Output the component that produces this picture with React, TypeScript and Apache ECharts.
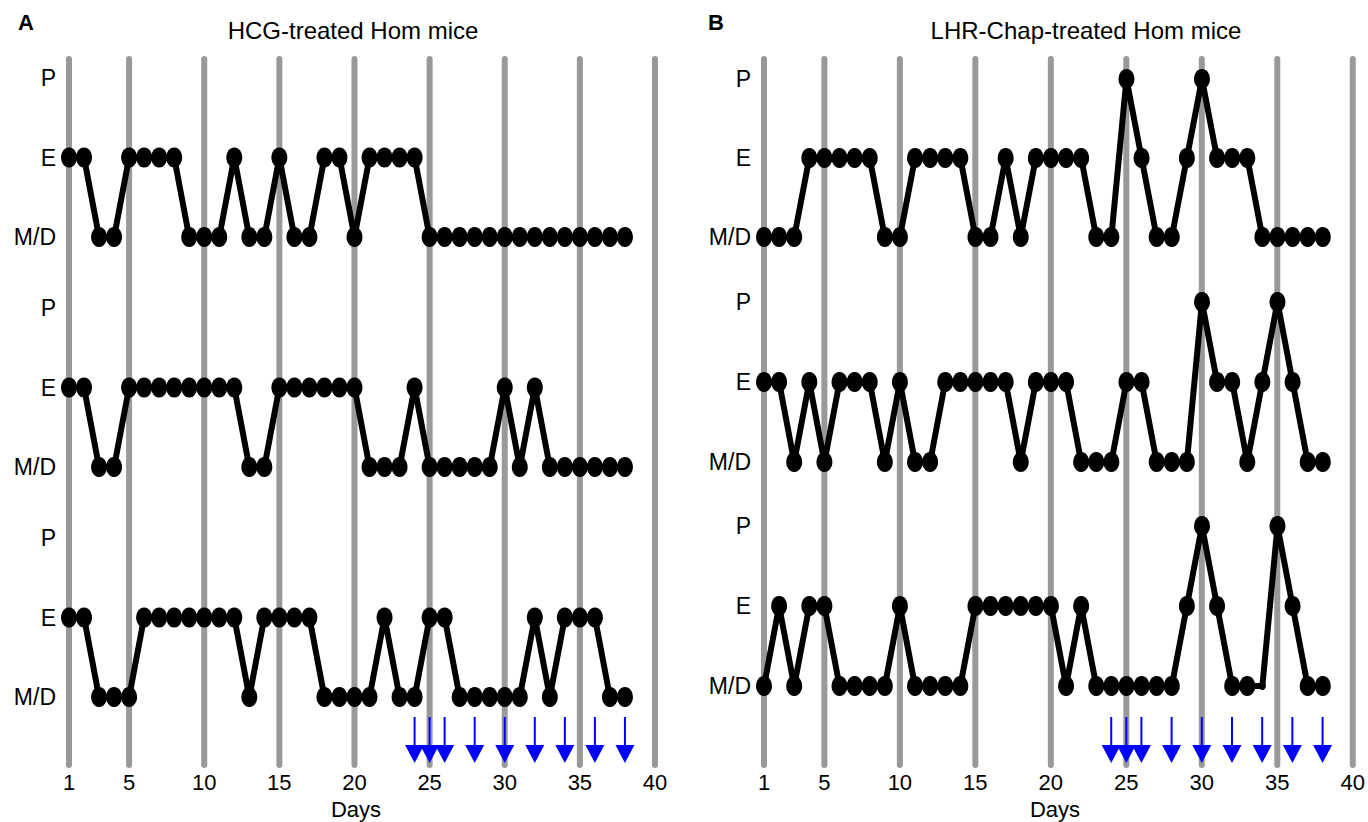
import React, { useEffect, useRef } from "react";
import * as echarts from "echarts";

const stageLabels = ["M/D", "E", "P"];
const tickDays = [1, 5, 10, 15, 20, 25, 30, 35, 40];
const arrowDays = [24, 25, 26, 28, 30, 32, 34, 36, 38];

const hcgMouse1 = [1,1,0,0,1,1,1,1,0,0,0,1,0,0,1,0,0,1,1,0,1,1,1,1,0,0,0,0,0,0,0,0,0,0,0,0,0,0];
const hcgMouse2 = [1,1,0,0,1,1,1,1,1,1,1,1,0,0,1,1,1,1,1,1,0,0,0,1,0,0,0,0,0,1,0,1,0,0,0,0,0,0];
const hcgMouse3 = [1,1,0,0,0,1,1,1,1,1,1,1,0,1,1,1,1,0,0,0,0,1,0,0,1,1,0,0,0,0,0,1,0,1,1,1,0,0];

const lhrMouse1 = [0,0,0,1,1,1,1,1,0,0,1,1,1,1,0,0,1,0,1,1,1,1,0,0,2,1,0,0,1,2,1,1,1,0,0,0,0,0];
const lhrMouse2 = [1,1,0,1,0,1,1,1,0,1,0,0,1,1,1,1,1,0,1,1,1,0,0,0,1,1,0,0,0,2,1,1,0,1,2,1,0,0];
const lhrMouse3 = [0,1,0,1,1,0,0,0,0,1,0,0,0,0,1,1,1,1,1,1,0,1,0,0,0,0,0,0,1,2,1,0,0,0,2,1,0,0];
// days drawn with a small marker in the original
const lhrMouse3SmallDays = [34];

const panelTitles = ["HCG-treated Hom mice", "LHR-Chap-treated Hom mice"];
const panelLetters = ["A", "B"];
const xAxisName = "Days";

const FONT = "'Liberation Sans', Arial, Helvetica, sans-serif";

export default function App() {
  const ref = useRef<HTMLDivElement>(null);
  useEffect(() => {
    if (!ref.current) return;
    const chart = echarts.init(ref.current, null, { renderer: "svg" });

    const panels = [
      { left: 69, width: 586, rows: [hcgMouse1, hcgMouse2, hcgMouse3], small: [[], [], []], tops: [78, 308, 538], heights: [159, 159, 159], cx: 353, daysX: 356, letterX: 26 },
      { left: 764, width: 589, rows: [lhrMouse1, lhrMouse2, lhrMouse3], small: [[], [], lhrMouse3SmallDays], tops: [79, 302, 526], heights: [158, 160, 160], cx: 1086, daysX: 1055, letterX: 716 },
    ];

    const grids: any[] = [];
    const xAxes: any[] = [];
    const yAxes: any[] = [];
    const series: any[] = [];

    panels.forEach((p) => {
      const bgIdx = grids.length;
      grids.push({ left: p.left, width: p.width, top: 59, height: 706 });
      xAxes.push({
        gridIndex: bgIdx, type: "value", min: 1, max: 40,
        axisLine: { show: false }, axisTick: { show: false }, splitLine: { show: false },
        axisLabel: { customValues: tickDays, fontSize: 22, color: "#000", margin: 6, fontFamily: FONT },
      });
      yAxes.push({ gridIndex: bgIdx, type: "value", min: 0, max: 1, show: false });
      series.push({
        type: "custom", xAxisIndex: bgIdx, yAxisIndex: bgIdx, z: 1, silent: true, clip: false,
        data: tickDays.map((d) => [d, 0]),
        renderItem: (params: any, api: any) => {
          const x = api.coord([api.value(0), 0])[0];
          const cs = params.coordSys;
          return {
            type: "line",
            shape: { x1: x, y1: cs.y, x2: x, y2: cs.y + cs.height },
            style: { stroke: "#999999", lineWidth: 6, lineCap: "round" },
          };
        },
      });
      series.push({
        type: "custom", xAxisIndex: bgIdx, yAxisIndex: bgIdx, z: 5, silent: true, clip: false,
        data: arrowDays.map((d) => [d, 0]),
        renderItem: (params: any, api: any) => {
          const pt = api.coord([api.value(0), 0]);
          const x = pt[0];
          const b = pt[1];
          return {
            type: "group",
            children: [
              { type: "line", shape: { x1: x, y1: b - 48, x2: x, y2: b - 18 }, style: { stroke: "#0000ff", lineWidth: 2 } },
              { type: "polygon", shape: { points: [[x - 9.5, b - 20], [x + 9.5, b - 20], [x, b - 2]] }, style: { fill: "#0000ff" } },
            ],
          };
        },
      });

      p.rows.forEach((vals, ri) => {
        const gi = grids.length;
        const small: number[] = p.small[ri];
        grids.push({ left: p.left, width: p.width, top: p.tops[ri], height: p.heights[ri] });
        xAxes.push({ gridIndex: gi, type: "value", min: 1, max: 40, show: false });
        yAxes.push({
          gridIndex: gi, type: "value", min: 0, max: 2, interval: 1,
          axisLine: { show: false }, axisTick: { show: false }, splitLine: { show: false },
          axisLabel: {
            formatter: (v: number) => stageLabels[v] ?? "",
            fontSize: 23, color: "#000", margin: 13, fontFamily: FONT,
          },
        });
        series.push({
          type: "line", xAxisIndex: gi, yAxisIndex: gi, z: 3,
          data: vals.map((v, i) =>
            small.includes(i + 1)
              ? { value: [i + 1, v], symbolSize: [7, 8] }
              : [i + 1, v]
          ),
          symbol: "circle", symbolSize: [16, 20], showSymbol: true,
          lineStyle: { color: "#000", width: 6 },
          itemStyle: { color: "#000" },
        });
      });
    });

    const graphic: any[] = [];
    panels.forEach((p, pi) => {
      graphic.push({
        type: "text", x: p.letterX, y: 22,
        style: { text: panelLetters[pi], fontSize: 22, fontWeight: "bold", fill: "#000", align: "center", verticalAlign: "middle", fontFamily: FONT },
      });
      graphic.push({
        type: "text", x: p.cx, y: 30,
        style: { text: panelTitles[pi], fontSize: 24, fill: "#000", align: "center", verticalAlign: "middle", fontFamily: FONT },
      });
      graphic.push({
        type: "text", x: p.daysX, y: 809,
        style: { text: xAxisName, fontSize: 22, fill: "#000", align: "center", verticalAlign: "middle", fontFamily: FONT },
      });
    });

    chart.setOption({
      animation: false,
      backgroundColor: "#fff",
      textStyle: { fontFamily: FONT },
      grid: grids,
      xAxis: xAxes,
      yAxis: yAxes,
      series,
      graphic,
    });
    return () => chart.dispose();
  }, []);

  return <div ref={ref} style={{ position: "fixed", left: 0, top: 0, width: 1368, height: 822 }} />;
}
